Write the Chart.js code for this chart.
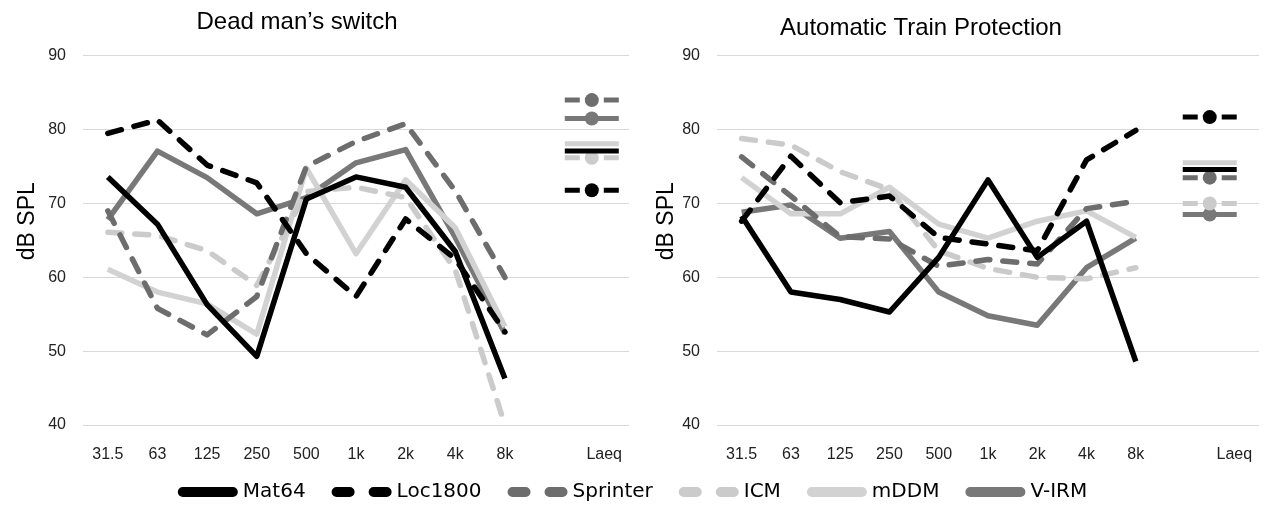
<!DOCTYPE html>
<html>
<head>
<meta charset="utf-8">
<script src="https://cdn.jsdelivr.net/npm/chart.js@4.4.1/dist/chart.umd.min.js"></script>
<style>
  html, body { margin: 0; padding: 0; background: #fff; }
  #wrap { position: relative; width: 1270px; height: 513px; overflow: hidden; }
  #wrap > div { position: absolute; line-height: 0; }
</style>
</head>
<body>
<div id="wrap">
  <div style="left:-40px; top:0;"><canvas id="leftChart" width="674" height="470"></canvas></div>
  <div style="left:583px; top:0;"><canvas id="rightChart" width="687" height="470"></canvas></div>
  <div style="left:0; top:451px;"><canvas id="legendChart" width="1270" height="180"></canvas></div>
</div>
<script>
// categories (blank slot before Laeq)
const freqLabels = ['31.5', '63', '125', '250', '500', '1k', '2k', '4k', '8k', '', 'Laeq'];
const seriesNames = ['Mat64', 'Loc1800', 'Sprinter', 'ICM', 'mDDM', 'V-IRM'];
const yTicks = [40, 50, 60, 70, 80, 90];

// Dead man's switch (dB SPL per octave band)
const dmsMat64    = [73.6, 67.2, 56.3, 49.3, 70.6, 73.6, 72.2, 63.5, 46.3];
const dmsLoc1800  = [79.5, 81.3, 75.2, 72.8, 63.2, 57.4, 67.9, 62.5, 52.6];
const dmsSprinter = [69.0, 55.8, 52.2, 57.4, 75.0, 78.4, 80.8, 71.7, 60.0];
const dmsICM      = [66.1, 65.7, 63.6, 58.9, 71.6, 72.2, 70.8, 61.0, 40.0];
const dmsMDDM     = [61.1, 58.0, 56.4, 52.3, 74.8, 63.2, 73.2, 66.7, 53.3];
const dmsVIRM     = [67.8, 77.1, 73.5, 68.6, 70.8, 75.5, 77.3, 65.4, 52.4];
const dmsLaeq     = [77.1, 71.8, 84.0, 76.2, 78.1, 81.5];

// Automatic Train Protection
const atpMat64    = [68.3, 58.0, 57.0, 55.3, 62.7, 73.2, 62.7, 67.6, 48.6];
const atpLoc1800  = [67.6, 76.4, 70.1, 71.0, 65.4, 64.5, 63.6, 75.9, 79.9];
const atpSprinter = [76.3, 71.0, 65.5, 65.2, 61.5, 62.4, 61.8, 69.3, 70.3];
const atpICM      = [78.8, 77.9, 74.3, 71.9, 63.6, 61.2, 60.0, 59.8, 61.3];
const atpMDDM     = [73.5, 68.6, 68.6, 72.2, 67.2, 65.3, 67.6, 69.0, 65.4];
const atpVIRM     = [68.8, 69.8, 65.3, 66.2, 58.0, 54.8, 53.5, 61.3, 65.3];
const atpLaeq     = [74.6, 81.7, 73.5, 70.0, 75.5, 68.5];

// look of each series
const seriesColors = ['#000000', '#000000', '#6d6d6d', '#cbcbcb', '#d2d2d2', '#787878'];
const seriesDashed = [false, true, true, true, false, false];
const seriesMarker = [false, true, true, true, false, true];

const lineDash = [14, 13];
const fontFamily = '"Liberation Sans", Arial, sans-serif';
// leading no-break spaces nudge the rotated axis title up a little, like the original
const axisTitle = '\u00a0\u00a0\u00a0\u00a0\u00a0\u00a0dB SPL';

function makeDatasets(valueLists) {
    return valueLists.map((vals, i) => ({
        label: seriesNames[i],
        data: vals.concat([null, null]),
        borderColor: seriesColors[i],
        backgroundColor: seriesColors[i],
        borderWidth: 5.5,
        borderDash: seriesDashed[i] ? lineDash : [],
        borderCapStyle: seriesDashed[i] ? 'round' : 'butt',
        borderJoinStyle: 'round',
        pointRadius: 0,
        tension: 0,
        spanGaps: false
    }));
}

// Laeq marks: short horizontal bar (dashed or solid) with optional dot
const laeqMarks = {
    id: 'laeqMarks',
    afterDatasetsDraw(chart, args, opts) {
        const ctx = chart.ctx;
        const x = chart.scales.x.getPixelForValue(opts.slot);
        for (let i = opts.values.length - 1; i >= 0; i--) {
            const y = chart.scales.y.getPixelForValue(opts.values[i]);
            ctx.save();
            ctx.strokeStyle = seriesColors[i];
            ctx.fillStyle = seriesColors[i];
            ctx.lineWidth = 5;
            ctx.beginPath();
            if (seriesDashed[i]) {
                ctx.moveTo(x - 27, y); ctx.lineTo(x - 12, y);
                ctx.moveTo(x + 12, y); ctx.lineTo(x + 27, y);
            } else {
                ctx.moveTo(x - 27, y); ctx.lineTo(x + 27, y);
            }
            ctx.stroke();
            if (seriesMarker[i]) {
                ctx.beginPath();
                ctx.arc(x, y, 7, 0, Math.PI * 2);
                ctx.fill();
            }
            ctx.restore();
        }
    }
};

function makeOptions(titleText, titlePad, laeqValues, laeqSlot, padRight, axisWidth, axisTitlePad) {
    return {
        responsive: false,
        animation: false,
        layout: { padding: { left: 0, right: padRight, top: 0, bottom: 0 } },
        plugins: {
            legend: { display: false },
            tooltip: { enabled: false },
            title: {
                display: true,
                text: titleText,
                color: '#000',
                font: { family: fontFamily, size: 24, weight: 'normal' },
                padding: titlePad
            },
            laeqMarks: { values: laeqValues, slot: laeqSlot }
        },
        scales: {
            x: {
                offset: true,
                grid: { display: false },
                border: { display: false },
                ticks: {
                    color: '#222',
                    font: { family: fontFamily, size: 16 },
                    padding: 12,
                    maxRotation: 0,
                    autoSkip: false
                },
                afterFit(axis) { axis.height = 45; }
            },
            y: {
                min: 40,
                max: 90,
                afterBuildTicks(axis) { axis.ticks = yTicks.map(v => ({ value: v })); },
                grid: { color: '#d9d9d9', lineWidth: 1, drawTicks: false },
                border: { display: false },
                ticks: {
                    color: '#222',
                    font: { family: fontFamily, size: 16 },
                    padding: 17
                },
                title: {
                    display: true,
                    text: axisTitle,
                    color: '#000',
                    font: { family: fontFamily, size: 23 },
                    padding: { top: axisTitlePad, bottom: 0 }
                },
                afterFit(axis) { axis.width = axisWidth; }
            }
        }
    };
}

const deadMansChart = new Chart(document.getElementById('leftChart'), {
    type: 'line',
    data: {
        labels: freqLabels,
        datasets: makeDatasets([dmsMat64, dmsLoc1800, dmsSprinter, dmsICM, dmsMDDM, dmsVIRM])
    },
    options: makeOptions("Dead man\u2019s switch", { top: 8, bottom: 19 }, dmsLaeq, 9.75, 0, 123, 54),
    plugins: [laeqMarks]
});

const atpChart = new Chart(document.getElementById('rightChart'), {
    type: 'line',
    data: {
        labels: freqLabels,
        datasets: makeDatasets([atpMat64, atpLoc1800, atpSprinter, atpICM, atpMDDM, atpVIRM])
    },
    options: makeOptions('Automatic Train Protection', { top: 14, bottom: 13 }, atpLaeq, 9.5, 11, 134, 70),
    plugins: [laeqMarks]
});

// shared legend along the bottom
const legendChart = new Chart(document.getElementById('legendChart'), {
    type: 'line',
    data: {
        labels: [],
        datasets: seriesNames.map((name, i) => ({ label: name, data: [], borderColor: seriesColors[i] }))
    },
    options: {
        responsive: false,
        animation: false,
        layout: { padding: 0 },
        scales: { x: { display: false }, y: { display: false } },
        plugins: {
            tooltip: { enabled: false },
            legend: {
                position: 'top',
                labels: {
                    usePointStyle: true,
                    pointStyleWidth: 50,
                    padding: 31,
                    color: '#222',
                    font: { family: '"DejaVu Sans", sans-serif', size: 20 },
                    generateLabels() {
                        return seriesNames.map((name, i) => ({
                            text: name,
                            strokeStyle: seriesColors[i],
                            fillStyle: seriesColors[i],
                            lineWidth: 10,
                            lineCap: 'round',
                            lineDash: seriesDashed[i] ? [13, 24] : [],
                            pointStyle: 'line',
                            hidden: false,
                            datasetIndex: i
                        }));
                    }
                }
            }
        }
    }
});
</script>
</body>
</html>
